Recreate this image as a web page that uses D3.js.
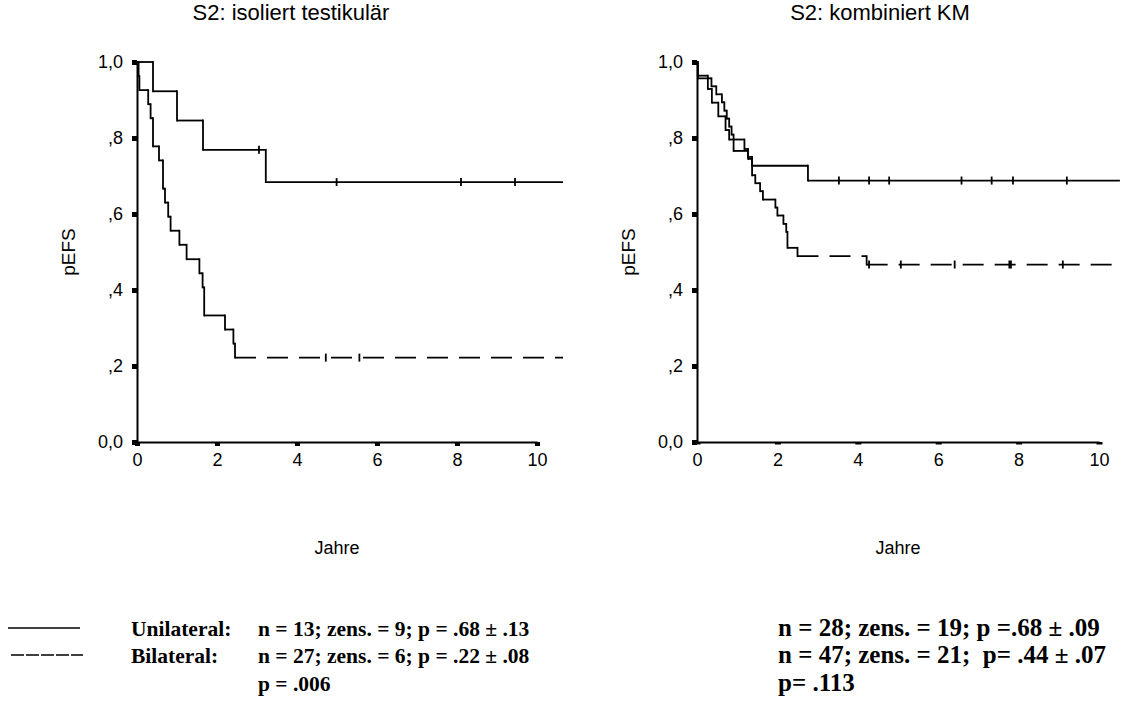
<!DOCTYPE html>
<html>
<head>
<meta charset="utf-8">
<script src="https://cdn.jsdelivr.net/npm/d3@7"></script>
<style>
  body { margin: 0; background: #fff; }
  svg { display: block; }
  .legend-text { font-family: "Liberation Serif", "Times New Roman", serif; font-weight: bold; white-space: pre; }
</style>
</head>
<body>
<svg id="chart" width="1123" height="716"></svg>
<script>
// Axis ticks
const xTickValues = [0, 2, 4, 6, 8, 10];
const yTickValues = [0, 0.2, 0.4, 0.6, 0.8, 1.0];
const yTickLabels = ["0,0", ",2", ",4", ",6", ",8", "1,0"];

// S2: isoliert testikulär — event times (Jahre) and pEFS after each event
const testUniTimes = [0.40, 1.00, 1.65, 3.22];
const testUniSurv  = [0.923, 0.846, 0.769, 0.684];
const testUniCensored = [3.05, 4.99, 8.10, 9.45];
const testUniEnd = 10.65;

const testBiTimes = [0.04, 0.06, 0.28, 0.34, 0.40, 0.55, 0.65, 0.70, 0.78, 0.84,
                     1.06, 1.24, 1.56, 1.64, 1.68, 2.20, 2.41, 2.45];
const testBiSurv  = [0.963, 0.926, 0.889, 0.852, 0.778, 0.741, 0.667, 0.630, 0.593, 0.556,
                     0.519, 0.481, 0.444, 0.407, 0.333, 0.296, 0.259, 0.222];
const testBiCensored = [4.72, 5.56];
const testBiEnd = 10.65;

// S2: kombiniert KM
const kmUniTimes = [0.02, 0.27, 0.37, 0.53, 0.71, 0.80, 1.18, 1.27, 1.37, 2.76];
const kmUniSurv  = [0.964, 0.929, 0.893, 0.857, 0.821, 0.796, 0.771, 0.750, 0.727, 0.688];
const kmUniCensored = [3.53, 4.28, 4.78, 6.58, 7.33, 7.86, 9.20];
const kmUniEnd = 10.52;

const kmBiTimes = [0.02, 0.36, 0.48, 0.62, 0.68, 0.74, 0.80, 0.86, 0.91, 1.27, 1.37,
                   1.45, 1.57, 1.64, 1.95, 2.00, 2.15, 2.22, 2.25, 2.50, 4.22];
const kmBiSurv  = [0.957, 0.936, 0.915, 0.894, 0.872, 0.851, 0.830, 0.809, 0.766, 0.745, 0.702,
                   0.681, 0.660, 0.638, 0.617, 0.596, 0.574, 0.553, 0.511, 0.489, 0.467];
const kmBiCensored = [4.28, 5.07, 6.41, 7.77, 7.81, 9.10];
const kmBiEnd = 10.40;

// Legend texts
const legendNames = ["Unilateral:", "Bilateral:"];
const testStats = ["n = 13; zens. = 9; p = .68 ± .13", "n = 27; zens. = 6; p = .22 ± .08", "p = .006"];
const kmStats   = ["n = 28; zens. = 19; p =.68 ± .09", "n = 47; zens. = 21;  p= .44 ± .07", "p= .113"];

const svg = d3.select("#chart");
const sansFont = "'Liberation Sans', Arial, sans-serif";

function drawPanel(cfg) {
  const x = d3.scaleLinear().domain([0, 10]).range([cfg.left, cfg.right]);
  const y = d3.scaleLinear().domain([0, 1]).range([cfg.bottom, cfg.top]);
  const g = svg.append("g");

  // title
  g.append("text")
    .attr("x", cfg.titleX).attr("y", 20)
    .attr("text-anchor", "middle")
    .style("font-family", sansFont).style("font-size", "22px")
    .text(cfg.title);

  // y axis with square tick marks
  const ya = g.append("g")
    .attr("transform", `translate(${cfg.left},0)`)
    .call(d3.axisLeft(y).tickValues(yTickValues)
      .tickFormat((d, i) => yTickLabels[i])
      .tickSizeInner(5).tickSizeOuter(0).tickPadding(9));
  ya.select(".domain").attr("stroke-width", 2);
  ya.selectAll(".tick line").attr("stroke-width", 5);
  ya.selectAll(".tick text").style("font-family", sansFont).style("font-size", "18px").attr("fill", "#000");

  // x axis
  const xa = g.append("g")
    .attr("transform", `translate(0,${cfg.bottom})`)
    .call(d3.axisBottom(x).tickValues(xTickValues)
      .tickFormat(d3.format("d"))
      .tickSizeInner(cfg.xTickLen).tickSizeOuter(0).tickPadding(11 - cfg.xTickLen));
  xa.select(".domain").attr("stroke-width", 2);
  xa.selectAll(".tick line").attr("stroke-width", cfg.xTickWidth);
  xa.selectAll(".tick text").style("font-family", sansFont).style("font-size", "18px").attr("fill", "#000");

  // axis titles
  g.append("text")
    .attr("transform", `translate(${cfg.yLabelX},${(cfg.top + cfg.bottom) / 2}) rotate(-90)`)
    .attr("text-anchor", "middle")
    .style("font-family", sansFont).style("font-size", "19px")
    .text("pEFS");
  g.append("text")
    .attr("x", (cfg.left + cfg.right) / 2).attr("y", 554)
    .attr("text-anchor", "middle")
    .style("font-family", sansFont).style("font-size", "18px")
    .text("Jahre");

  const hLine = d3.line().x(d => x(d[0])).y(d => y(d[1]));

  cfg.series.forEach(s => {
    const pts = [[0, 1]].concat(s.times.map((t, i) => [t, s.surv[i]]));
    pts.push([s.end, s.surv[s.surv.length - 1]]);
    // horizontal runs between events; the dash pattern restarts at every event
    const runs = d3.range(pts.length - 1).map(i => [pts[i], [pts[i + 1][0], pts[i][1]]]);
    // vertical drops at each event, always drawn solid
    const drops = d3.range(1, pts.length - 1).map(i => [[pts[i][0], pts[i - 1][1]], pts[i]]);
    const sg = g.append("g").attr("fill", "none").attr("stroke", "#000").attr("stroke-width", 1.8);
    sg.selectAll("path.run").data(runs).join("path")
      .attr("class", "run")
      .attr("d", hLine)
      .attr("stroke-dasharray", s.dashed ? "21,11" : null);
    sg.selectAll("path.drop").data(drops).join("path")
      .attr("class", "drop")
      .attr("d", hLine)
      .attr("stroke-linecap", "square");

    const survAt = t => {
      let v = 1;
      s.times.forEach((et, i) => { if (et <= t) v = s.surv[i]; });
      return v;
    };
    g.append("g").selectAll("line").data(s.censored).join("line")
      .attr("x1", d => x(d)).attr("x2", d => x(d))
      .attr("y1", d => y(survAt(d)) - 4).attr("y2", d => y(survAt(d)) + 4)
      .attr("stroke", "#000").attr("stroke-width", 1.8);
  });
}

drawPanel({
  title: "S2: isoliert testikulär", titleX: 291,
  left: 137, right: 537, top: 62, bottom: 442,
  xTickLen: 4, xTickWidth: 5, yLabelX: 75,
  series: [
    { times: testUniTimes, surv: testUniSurv, censored: testUniCensored, end: testUniEnd, dashed: false },
    { times: testBiTimes, surv: testBiSurv, censored: testBiCensored, end: testBiEnd, dashed: true }
  ]
});

drawPanel({
  title: "S2: kombiniert KM", titleX: 880,
  left: 697, right: 1099, top: 62, bottom: 442,
  xTickLen: 2.5, xTickWidth: 6, yLabelX: 635,
  series: [
    { times: kmUniTimes, surv: kmUniSurv, censored: kmUniCensored, end: kmUniEnd, dashed: false },
    { times: kmBiTimes, surv: kmBiSurv, censored: kmBiCensored, end: kmBiEnd, dashed: true }
  ]
});

// legend
const legend = svg.append("g");
legend.append("line").attr("x1", 8).attr("x2", 80).attr("y1", 628).attr("y2", 628)
  .attr("stroke", "#000").attr("stroke-width", 1.3);
legend.append("line").attr("x1", 11).attr("x2", 83).attr("y1", 655).attr("y2", 655)
  .attr("stroke", "#000").attr("stroke-width", 1.3).attr("stroke-dasharray", "13,2");

const rowY = [636, 663, 691];
legend.selectAll("text.name").data(legendNames).join("text")
  .attr("class", "legend-text name")
  .attr("x", 131).attr("y", (d, i) => rowY[i])
  .style("font-size", "21.5px")
  .text(d => d);
legend.selectAll("text.ts").data(testStats).join("text")
  .attr("class", "legend-text ts")
  .attr("x", 258).attr("y", (d, i) => rowY[i])
  .style("font-size", "21.5px")
  .text(d => d);
legend.selectAll("text.ks").data(kmStats).join("text")
  .attr("class", "legend-text ks")
  .attr("x", 778).attr("y", (d, i) => rowY[i])
  .style("font-size", "25px")
  .text(d => d);
</script>
</body>
</html>
